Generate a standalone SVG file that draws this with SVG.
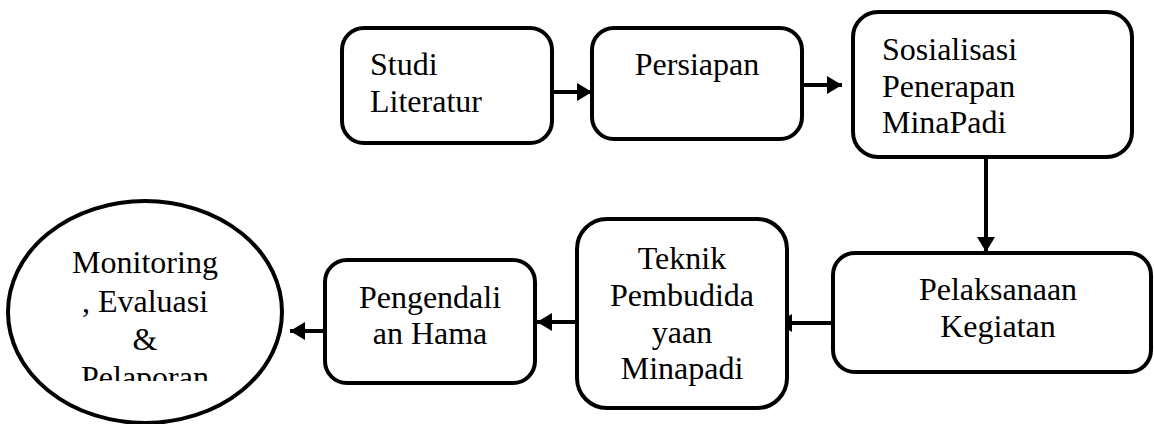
<svg xmlns="http://www.w3.org/2000/svg" width="1154" height="424" viewBox="0 0 1154 424">
<style>
.box{fill:#fff;stroke:#000;stroke-width:4}
.t{font-family:'Liberation Serif',serif;font-size:32px;fill:#000}
.c{text-anchor:middle}
.e{fill:none;stroke:#000;stroke-width:4}
</style>
<defs>
<marker id="ah" markerUnits="userSpaceOnUse" markerWidth="16" markerHeight="18" refX="15" refY="9" orient="auto">
<path d="M0,0 L15,9 L0,18 z" fill="#000"/>
</marker>
<clipPath id="clipMon"><rect x="0" y="0" width="300" height="381"/></clipPath>
</defs>
<rect width="1154" height="424" fill="#fff"/>
<g id="connectors">
<line class="e" x1="552" y1="92" x2="592" y2="92" marker-end="url(#ah)"/>
<line class="e" x1="802" y1="85" x2="842" y2="85" marker-end="url(#ah)"/>
<line class="e" x1="986" y1="157" x2="986" y2="252" marker-end="url(#ah)"/>
<line class="e" x1="833" y1="323" x2="777" y2="323" marker-end="url(#ah)"/>
<line class="e" x1="577" y1="322" x2="537" y2="322" marker-end="url(#ah)"/>
<line class="e" x1="325" y1="331" x2="290" y2="331" marker-end="url(#ah)"/>
</g>
<g font-family="Liberation Serif, serif">
<g id="studi">
<rect class="box" x="342" y="28" width="210" height="115" rx="22"/>
<text class="t" x="370" y="75">Studi</text>
<text class="t" x="370" y="112">Literatur</text>
</g>
<g id="persiapan">
<rect class="box" x="592" y="28" width="210" height="111" rx="22"/>
<text class="t c" x="697" y="75">Persiapan</text>
</g>
<g id="sosialisasi">
<rect class="box" x="853" y="12" width="279" height="145" rx="25"/>
<text class="t" x="882" y="60">Sosialisasi</text>
<text class="t" x="882" y="97">Penerapan</text>
<text class="t" x="882" y="133">MinaPadi</text>
</g>
<g id="pelaksanaan">
<rect class="box" x="833" y="253" width="318" height="119" rx="22"/>
<text class="t c" x="998" y="300">Pelaksanaan</text>
<text class="t c" x="998" y="337">Kegiatan</text>
</g>
<g id="teknik">
<rect class="box" x="577" y="219" width="210" height="189" rx="30"/>
<text class="t c" x="682" y="269">Teknik</text>
<text class="t c" x="682" y="306">Pembudida</text>
<text class="t c" x="682" y="343">yaan</text>
<text class="t c" x="682" y="379">Minapadi</text>
</g>
<g id="pengendali">
<rect class="box" x="325" y="260" width="210" height="123" rx="22"/>
<text class="t c" x="430" y="308">Pengendali</text>
<text class="t c" x="430" y="344">an Hama</text>
</g>
<g id="monitoring">
<ellipse class="box" cx="145" cy="312" rx="137" ry="111"/>
<g clip-path="url(#clipMon)">
<text class="t c" x="145" y="273">Monitoring</text>
<text class="t c" x="145" y="312">, Evaluasi</text>
<text class="t c" x="145" y="350">&amp;</text>
<text class="t c" x="145" y="388">Pelaporan</text>
</g>
</g>
</g>
</svg>
